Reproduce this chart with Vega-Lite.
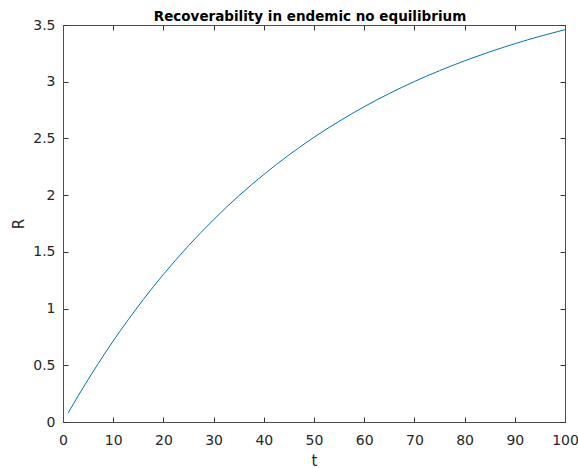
{
  "$schema": "https://vega.github.io/schema/vega-lite/v6.json",
  "autosize": "none",
  "width": 502,
  "height": 397,
  "padding": {"left": 63, "top": 25, "right": 13, "bottom": 46},
  "background": "white",
  "title": {
    "text": "Recoverability in endemic no equilibrium",
    "fontSize": 13.5,
    "fontWeight": "bold",
    "font": "DejaVu Sans",
    "color": "#000000",
    "offset": -5,
    "dx": -4
  },
  "config": {
    "view": {"stroke": "#4d4d4d", "strokeWidth": 1},
    "axis": {
      "grid": false,
      "domainColor": "#4d4d4d",
      "tickColor": "#333333",
      "tickWidth": 1,
      "labelColor": "#262626",
      "titleColor": "#262626",
      "labelFont": "DejaVu Sans",
      "titleFont": "DejaVu Sans",
      "labelFontSize": 14,
      "titleFontSize": 15,
      "titleFontWeight": "normal",
      "tickSize": -5,
      "labelFlush": false,
      "labelOverlap": false
    }
  },
  "data": {
    "values": [
      {"t": 1, "R": 0.078},
      {"t": 3, "R": 0.229},
      {"t": 5, "R": 0.374},
      {"t": 7, "R": 0.514},
      {"t": 10, "R": 0.714},
      {"t": 13, "R": 0.902},
      {"t": 16, "R": 1.080},
      {"t": 20, "R": 1.301},
      {"t": 25, "R": 1.554},
      {"t": 30, "R": 1.784},
      {"t": 35, "R": 1.993},
      {"t": 40, "R": 2.182},
      {"t": 45, "R": 2.354},
      {"t": 50, "R": 2.510},
      {"t": 55, "R": 2.651},
      {"t": 60, "R": 2.780},
      {"t": 65, "R": 2.896},
      {"t": 70, "R": 3.002},
      {"t": 75, "R": 3.097},
      {"t": 80, "R": 3.184},
      {"t": 85, "R": 3.263},
      {"t": 90, "R": 3.335},
      {"t": 95, "R": 3.400},
      {"t": 100, "R": 3.459}
    ]
  },
  "layer": [
    {
      "mark": {"type": "line", "color": "#0072BD", "strokeWidth": 1, "interpolate": "monotone"},
      "encoding": {
        "x": {
          "field": "t", "type": "quantitative",
          "scale": {"domain": [0, 100], "nice": false},
          "axis": {"values": [0,10,20,30,40,50,60,70,80,90,100], "title": "t", "labelPadding": 16, "titlePadding": 6, "format": "d"}
        },
        "y": {
          "field": "R", "type": "quantitative",
          "scale": {"domain": [0, 3.5], "nice": false, "zero": false},
          "axis": {"values": [0,0.5,1,1.5,2,2.5,3,3.5], "title": "R", "labelPadding": 13, "titlePadding": 6, "format": "~g"}
        }
      }
    },
    {
      "mark": {"type": "line", "opacity": 0},
      "encoding": {
        "x": {
          "field": "t", "type": "quantitative",
          "scale": {"domain": [0, 100], "nice": false},
          "axis": {"orient": "top", "values": [0,10,20,30,40,50,60,70,80,90,100], "labels": false, "title": null}
        },
        "y": {
          "field": "R", "type": "quantitative",
          "scale": {"domain": [0, 3.5], "nice": false, "zero": false},
          "axis": {"orient": "right", "values": [0,0.5,1,1.5,2,2.5,3,3.5], "labels": false, "title": null}
        }
      }
    }
  ],
  "resolve": {"axis": {"x": "independent", "y": "independent"}}
}
